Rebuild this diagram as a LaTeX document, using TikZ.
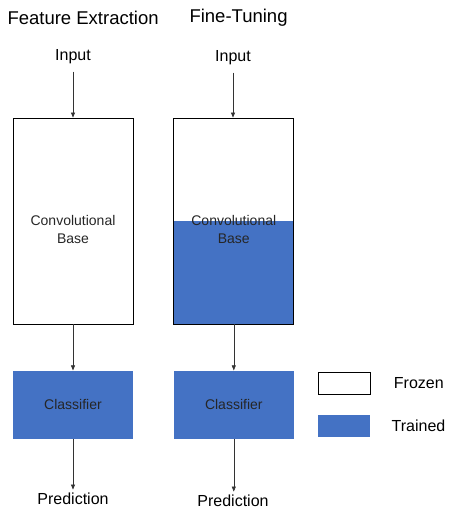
\documentclass[tikz,border=0pt]{standalone}
\usepackage{fontspec}
\setmainfont{Liberation Sans}
\usetikzlibrary{positioning,arrows.meta}
\definecolor{trainblue}{HTML}{4472C4}
\tikzset{
    convbox/.style={rectangle, draw, line width=0.8pt, minimum width=120pt, minimum height=206pt},
    boxtext/.style={align=center, font=\fontsize{14}{18}\selectfont, text=black!85},
    classbox/.style={rectangle, fill=trainblue, minimum width=120pt, minimum height=68pt, font=\fontsize{14}{18}\selectfont, text=black!85},
    legendbox/.style={rectangle, minimum width=52pt, minimum height=22pt},
    txt/.style={font=\fontsize{16}{19}\selectfont},
    title/.style={font=\fontsize{18.5}{22}\selectfont},
    line/.style={draw, black!80, line width=0.6pt, -{Triangle[length=5pt,width=4pt]}}
}
\begin{document}
\begin{tikzpicture}[x=1pt,y=-1pt]
    \useasboundingbox (0,0) rectangle (448,512);
    % Titles
    \node [title, anchor=west] (feattitle) at (4,18) {Feature Extraction};
    \node [title, anchor=west] (finetitle) at (186,18) {Fine-Tuning};

    % Feature extraction column
    \node [txt] (inleft) at (73,57) {Input};
    \node [convbox] (featconv) at (73,221) {};
    \node [boxtext] (featbase) at ([yshift=-8pt]featconv.center) {Convolutional\\Base};
    \node [classbox, below=46pt of featconv] (featcls) {Classifier};
    \node [txt] (predleft) at (73,499) {Prediction};

    % Fine-tuning column
    \node [txt] (inright) at (233,58) {Input};
    \node [convbox, right=40pt of featconv,
        path picture={\fill [trainblue] (path picture bounding box.south west) rectangle (path picture bounding box.east);}] (fineconv) {};
    \node [boxtext] (finebase) at ([yshift=-8pt]fineconv.center) {Convolutional\\Base};
    \node [classbox, below=46pt of fineconv] (finecls) {Classifier};
    \node [txt] (predright) at (233,501) {Prediction};

    % Legend
    \node [legendbox, draw, line width=0.8pt] (frozen) at (344,383) {};
    \node [txt, right=20pt of frozen] (frozentxt) {Frozen};
    \node [legendbox, fill=trainblue] (trained) at (344,426) {};
    \node [txt, right=18pt of trained] (trainedtxt) {Trained};

    % Flow
    \path [line, shorten <=4pt] (inleft) -- (inleft |- featconv.north);
    \path [line] (featconv) -- (featcls);
    \path [line] (featcls) -- (featcls.south |- predleft.north);
    \path [line, shorten <=4pt] (inright) -- (inright |- fineconv.north);
    \path [line] (fineconv) -- (finecls);
    \path [line] (finecls) -- (finecls.south |- predright.north);
\end{tikzpicture}
\end{document}
